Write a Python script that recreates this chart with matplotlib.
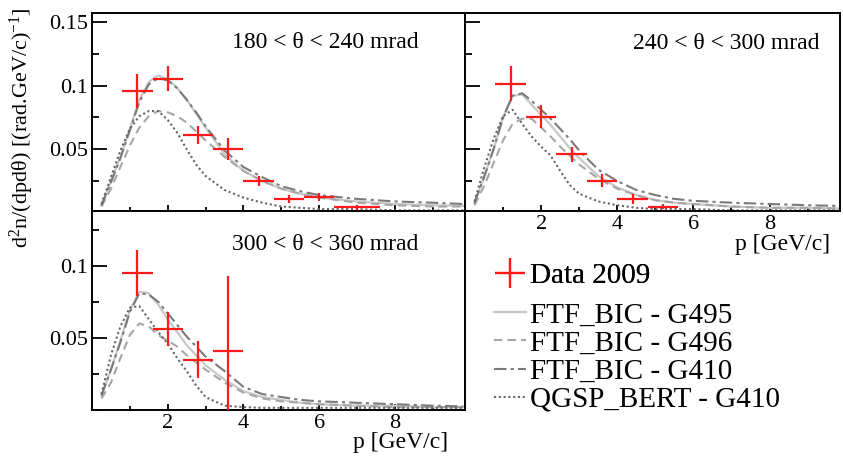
"""Pion spectra in three theta bins: data 2009 vs. Geant4 models."""

import matplotlib as mpl
import matplotlib.pyplot as plt
from matplotlib.ticker import FixedLocator, MultipleLocator, NullFormatter, FixedFormatter

P_GRID = [0.25, 0.5, 0.75, 1.0, 1.25, 1.5, 1.75, 2.0, 2.25, 2.5, 2.75, 3.0,
          3.5, 4.0, 4.5, 5.0, 5.5, 6.0, 7.0, 8.0, 9.0, 9.8]

# 180 < theta < 240 mrad
A_DATA_P = [1.2, 2.0, 2.8, 3.6, 4.4, 5.2, 6.0, 7.0]
A_DATA_PERR = [0.4, 0.4, 0.4, 0.4, 0.4, 0.4, 0.4, 0.6]
A_DATA_V = [0.0955, 0.1055, 0.061, 0.050, 0.0252, 0.0109, 0.0127, 0.0044]
A_DATA_VERR = [0.0135, 0.010, 0.007, 0.0085, 0.004, 0.003, 0.003, 0.002]
A_G495 = [0.006, 0.025, 0.044, 0.066, 0.089, 0.103, 0.108, 0.105, 0.098, 0.089, 0.078,
          0.067, 0.046, 0.033, 0.025, 0.019, 0.015, 0.012, 0.009, 0.007, 0.006, 0.0055]
A_G496 = [0.005, 0.019, 0.036, 0.053, 0.067, 0.076, 0.080, 0.079, 0.076, 0.071, 0.064,
          0.057, 0.044, 0.033, 0.025, 0.019, 0.015, 0.012, 0.008, 0.006, 0.005, 0.005]
A_G410 = [0.006, 0.024, 0.043, 0.065, 0.087, 0.101, 0.106, 0.104, 0.098, 0.089, 0.079,
          0.068, 0.049, 0.036, 0.028, 0.021, 0.017, 0.014, 0.011, 0.009, 0.008, 0.007]
A_QGSP = [0.007, 0.028, 0.049, 0.066, 0.076, 0.080, 0.080, 0.073, 0.063, 0.050, 0.038,
          0.029, 0.018, 0.012, 0.008, 0.005, 0.004, 0.003, 0.003, 0.002, 0.002, 0.002]

# 240 < theta < 300 mrad
B_DATA_P = [1.2, 2.0, 2.8, 3.6, 4.4, 5.2]
B_DATA_PERR = [0.4, 0.4, 0.4, 0.4, 0.4, 0.4]
B_DATA_V = [0.1015, 0.0755, 0.046, 0.0252, 0.011, 0.005]
B_DATA_VERR = [0.0135, 0.009, 0.006, 0.005, 0.004, 0.002]
B_G495 = [0.008, 0.028, 0.050, 0.075, 0.092, 0.093, 0.085, 0.077, 0.069, 0.060, 0.051,
          0.043, 0.029, 0.020, 0.014, 0.010, 0.008, 0.007, 0.005, 0.004, 0.004, 0.0035]
B_G496 = [0.006, 0.021, 0.039, 0.057, 0.070, 0.074, 0.074, 0.067, 0.060, 0.052, 0.045,
          0.038, 0.027, 0.019, 0.014, 0.010, 0.008, 0.007, 0.005, 0.004, 0.004, 0.0035]
B_G410 = [0.008, 0.028, 0.050, 0.075, 0.092, 0.094, 0.088, 0.081, 0.074, 0.066, 0.058,
          0.049, 0.034, 0.025, 0.018, 0.014, 0.011, 0.0095, 0.008, 0.007, 0.006, 0.0055]
B_QGSP = [0.009, 0.035, 0.058, 0.076, 0.081, 0.070, 0.060, 0.052, 0.045, 0.033, 0.022,
          0.015, 0.009, 0.006, 0.004, 0.003, 0.003, 0.003, 0.002, 0.002, 0.002, 0.002]

# 300 < theta < 360 mrad
C_DATA_P = [1.2, 2.0, 2.8, 3.6]
C_DATA_PERR = [0.4, 0.4, 0.4, 0.4]
C_DATA_V = [0.0949, 0.0562, 0.035, 0.0407]
C_DATA_VERR = [0.016, 0.0115, 0.0127, 0.052]
C_G495 = [0.010, 0.028, 0.048, 0.069, 0.082, 0.081, 0.073, 0.063, 0.054, 0.045, 0.038,
          0.031, 0.021, 0.013, 0.009, 0.007, 0.005, 0.004, 0.003, 0.003, 0.002, 0.002]
C_G496 = [0.008, 0.019, 0.036, 0.052, 0.060, 0.058, 0.052, 0.048, 0.044, 0.038, 0.033,
          0.028, 0.019, 0.012, 0.008, 0.006, 0.005, 0.004, 0.003, 0.002, 0.002, 0.002]
C_G410 = [0.010, 0.028, 0.047, 0.068, 0.081, 0.080, 0.075, 0.067, 0.059, 0.051, 0.044,
          0.037, 0.027, 0.016, 0.011, 0.009, 0.007, 0.006, 0.005, 0.004, 0.003, 0.0025]
C_QGSP = [0.011, 0.038, 0.058, 0.071, 0.072, 0.063, 0.054, 0.046, 0.036, 0.027, 0.017,
          0.009, 0.003, 0.002, 0.0015, 0.0015, 0.0015, 0.0015, 0.0015, 0.0015, 0.0015, 0.0015]

MODEL_LABELS = ["FTF_BIC - G495", "FTF_BIC - G496", "FTF_BIC - G410", "QGSP_BERT - G410"]
MODEL_STYLES = [
    dict(color="#c8c8c8", linestyle="-", linewidth=1.6),
    dict(color="#a6a6a6", linestyle=(0, (4, 2.5)), linewidth=1.5),
    dict(color="#7a7a7a", linestyle=(0, (6, 2, 1.5, 2)), linewidth=1.5),
    dict(color="#666666", linestyle=(0, (1, 1.3)), linewidth=1.5),
]
DATA_COLOR = "#ff1a1a"


def draw_panel(ax, models, data, title, title_xy, ylim, yticks, ylabels):
    for values, style in zip(models, MODEL_STYLES):
        ax.plot(P_GRID, values, **style)
    p, perr, v, verr = data
    ax.errorbar(p, v, xerr=perr, yerr=verr, fmt="none", ecolor=DATA_COLOR,
                elinewidth=1.6, capsize=0, zorder=5)
    ax.set_xlim(0, 9.85)
    ax.set_ylim(*ylim)
    ax.xaxis.set_major_locator(FixedLocator([2, 4, 6, 8]))
    ax.xaxis.set_minor_locator(FixedLocator([1, 3, 5, 7, 9]))
    ax.yaxis.set_major_locator(FixedLocator(yticks))
    ax.yaxis.set_major_formatter(FixedFormatter(ylabels))
    ax.yaxis.set_minor_locator(MultipleLocator(0.025))
    ax.tick_params(axis="both", which="both", direction="in", top=False, right=False,
                   width=1.3)
    ax.tick_params(axis="y", which="major", length=10.5, pad=3)
    ax.tick_params(axis="y", which="minor", length=5)
    ax.tick_params(axis="x", which="major", length=4.5, pad=3)
    ax.tick_params(axis="x", which="minor", length=3)
    ax.text(title_xy[0], title_xy[1], title, transform=ax.transAxes,
            ha="left", va="center", fontsize=17)


def main() -> None:
    mpl.rcParams.update(
        {
            "font.family": ["Liberation Serif", "DejaVu Serif"],
            "mathtext.fontset": "custom",
            "mathtext.rm": "Liberation Serif",
            "mathtext.it": "Liberation Serif:italic",
            "font.size": 16,
            "xtick.labelsize": 16,
            "ytick.labelsize": 16,
            "axes.linewidth": 1.4,
        }
    )
    W, H = 843, 457
    fig = plt.figure(figsize=(W / 100, H / 100), dpi=100)

    def box(x0, y0, x1, y1):
        return [x0 / W, 1 - y1 / H, (x1 - x0) / W, (y1 - y0) / H]

    ax_a = fig.add_axes(box(92, 13, 465, 211))
    ax_b = fig.add_axes(box(465, 13, 840, 211))
    ax_c = fig.add_axes(box(92, 211, 465, 410))

    draw_panel(ax_a, [A_G495, A_G496, A_G410, A_QGSP],
               (A_DATA_P, A_DATA_PERR, A_DATA_V, A_DATA_VERR),
               "180 < θ < 240 mrad", (0.375, 0.85),
               (0.0015, 0.157), [0.05, 0.1, 0.15], ["0.05", "0.1", "0.15"])
    draw_panel(ax_b, [B_G495, B_G496, B_G410, B_QGSP],
               (B_DATA_P, B_DATA_PERR, B_DATA_V, B_DATA_VERR),
               "240 < θ < 300 mrad", (0.448, 0.845),
               (0.0015, 0.157), [0.05, 0.1, 0.15], ["", "", ""])
    draw_panel(ax_c, [C_G495, C_G496, C_G410, C_QGSP],
               (C_DATA_P, C_DATA_PERR, C_DATA_V, C_DATA_VERR),
               "300 < θ < 360 mrad", (0.375, 0.83),
               (0.0, 0.138), [0.05, 0.1], ["0.05", "0.1"])

    ax_a.xaxis.set_major_formatter(NullFormatter())
    ax_b.text(0.973, -0.17, "p [GeV/c]", transform=ax_b.transAxes,
              ha="right", va="center", fontsize=17)
    ax_c.text(0.955, -0.165, "p [GeV/c]", transform=ax_c.transAxes,
              ha="right", va="center", fontsize=17)

    fig.text(0.026, 1 - 128 / H, r"d$^{2}$n/(dpdθ) [(rad.GeV/c)$^{-1}$]",
             rotation=90, ha="center", va="center", fontsize=16)

    data_handle = ax_c.errorbar([], [], xerr=[], yerr=[], fmt="none",
                                ecolor=DATA_COLOR, elinewidth=1.6)
    leg1 = fig.legend([data_handle], ["Data 2009"], loc="center left",
                      bbox_to_anchor=(494 / W, 1 - 276 / H), frameon=False,
                      fontsize=21, handlelength=1.1, handletextpad=0.15,
                      borderpad=0, borderaxespad=0)
    fig.add_artist(leg1)
    model_handles = [mpl.lines.Line2D([], [], **style) for style in MODEL_STYLES]
    fig.legend(model_handles, MODEL_LABELS, loc="upper left",
               bbox_to_anchor=(494 / W, 1 - 302 / H), frameon=False,
               fontsize=21, handlelength=1.1, handletextpad=0.15,
               labelspacing=0.06, borderpad=0, borderaxespad=0)

    fig.savefig("out.png", dpi=100)
    plt.close(fig)


if __name__ == "__main__":
    main()
